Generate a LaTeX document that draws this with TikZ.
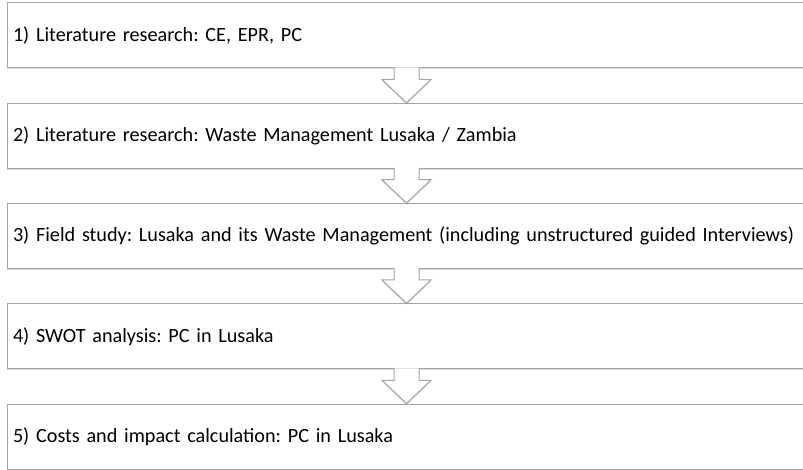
\documentclass[tikz,border=0pt]{standalone}
\usepackage{fontspec}
\setmainfont{Carlito}
\frenchspacing
\usetikzlibrary{shadows}
\tikzstyle{stage} = [rectangle, minimum width=799pt, minimum height=65pt, text width=787pt, inner xsep=6pt, align=left, draw=gray!70, line width=1pt, fill=white, drop shadow={shadow xshift=0pt, shadow yshift=-1.5pt, opacity=.3}, font=\fontsize{20.2}{24}\selectfont]
\tikzstyle{flow} = [draw=gray!70, line width=1pt, fill=white, drop shadow={shadow xshift=0pt, shadow yshift=-1.5pt, opacity=.3}]

\begin{document}
\begin{tikzpicture}[x=1pt,y=1pt,node distance=100.25pt]
\useasboundingbox (0,0) rectangle (803,-470);

\node (litce) [stage] at (406.5,-35.5) {1) Literature research: CE, EPR, PC};
\node (litwaste) [stage, below of=litce] {2) Literature research: Waste Management Lusaka / Zambia};
\node (field) [stage, below of=litwaste] {3) Field study: Lusaka and its Waste Management (including unstructured guided Interviews)};
\node (swot) [stage, below of=field] {4) SWOT analysis: PC in Lusaka};
\node (costs) [stage, below of=swot] {5) Costs and impact calculation: PC in Lusaka};
%
\draw [flow] ([xshift=-12.5pt,yshift=1pt]litce.south) -- ++(0,-12) -- ++(-12,0) -- (litwaste.north) -- ([xshift=24.5pt,yshift=-11pt]litce.south) -- ++(-12,0) -- ++(0,12);
\draw [flow] ([xshift=-12.5pt,yshift=1pt]litwaste.south) -- ++(0,-12) -- ++(-12,0) -- (field.north) -- ([xshift=24.5pt,yshift=-11pt]litwaste.south) -- ++(-12,0) -- ++(0,12);
\draw [flow] ([xshift=-12.5pt,yshift=1pt]field.south) -- ++(0,-12) -- ++(-12,0) -- (swot.north) -- ([xshift=24.5pt,yshift=-11pt]field.south) -- ++(-12,0) -- ++(0,12);
\draw [flow] ([xshift=-12.5pt,yshift=1pt]swot.south) -- ++(0,-12) -- ++(-12,0) -- (costs.north) -- ([xshift=24.5pt,yshift=-11pt]swot.south) -- ++(-12,0) -- ++(0,12);
\end{tikzpicture}
\end{document}
